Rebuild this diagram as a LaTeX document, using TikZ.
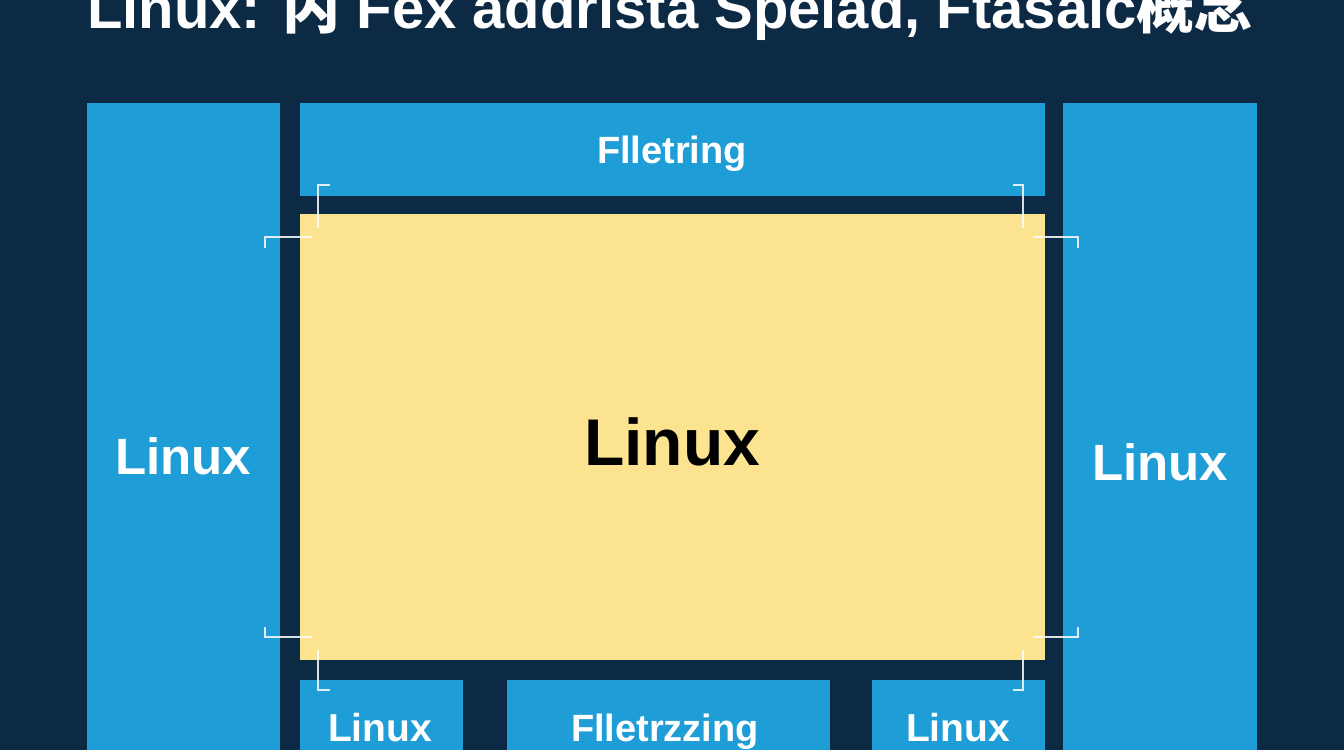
\documentclass[tikz,border=0pt]{standalone}
\usepackage{fontspec}
\setmainfont{Liberation Sans}
\newfontfamily\cjk{Noto Sans CJK SC}
\definecolor{bgnavy}{HTML}{0D2A45}
\definecolor{boxblue}{HTML}{1E9DD6}
\definecolor{boxyellow}{HTML}{FBE38F}
\begin{document}
\begin{tikzpicture}[x=1pt,y=-1pt,
  bluebox/.style={fill=boxblue,draw=none},
  yellowbox/.style={fill=boxyellow,draw=none},
  whitelabel/.style={text=white,font=\bfseries,anchor=base,inner sep=0pt},
  bracketline/.style={draw=white,line width=1.8pt,opacity=0.85}]
\fill[bgnavy] (0,0) rectangle (1344,750);
\useasboundingbox (0,0) rectangle (1344,750);
% boxes
\fill[bluebox] (87,103) rectangle (280,750);
\fill[bluebox] (1063,103) rectangle (1257,750);
\fill[bluebox] (300,103) rectangle (1045,196);
\fill[yellowbox] (300,214) rectangle (1045,660);
\fill[bluebox] (300,680) rectangle (463,750);
\fill[bluebox] (507,680) rectangle (830,750);
\fill[bluebox] (872,680) rectangle (1045,750);
% title
\node[whitelabel,font=\bfseries\fontsize{58}{58}\selectfont] (title) at (670,28) {Linux: {\cjk 内} Fex addrista Spelad, Ftasalc{\cjk 概念}};
% labels
\node[whitelabel,font=\bfseries\fontsize{38}{38}\selectfont] (top) at (672,163) {Flletring};
\node[whitelabel,font=\bfseries\fontsize{51}{51}\selectfont] (left) at (183,474) {Linux};
\node[whitelabel,font=\bfseries\fontsize{51}{51}\selectfont] (right) at (1160,480) {Linux};
\node[whitelabel,text=black,font=\bfseries\fontsize{66}{66}\selectfont] (center) at (672,465) {Linux};
\node[whitelabel,font=\bfseries\fontsize{39}{39}\selectfont] (bl) at (380,741) {Linux};
\node[whitelabel,font=\bfseries\fontsize{38}{38}\selectfont] (bm) at (665,741) {Flletrzzing};
\node[whitelabel,font=\bfseries\fontsize{39}{39}\selectfont] (br) at (958,741) {Linux};
% corner brackets
\draw[bracketline] (265,248) -- (265,237) -- (312,237);
\draw[bracketline] (318,228) -- (318,185) -- (330,185);
\draw[bracketline] (1078,248) -- (1078,237) -- (1033,237);
\draw[bracketline] (1023,228) -- (1023,185) -- (1013,185);
\draw[bracketline] (265,627) -- (265,637) -- (312,637);
\draw[bracketline] (318,650) -- (318,690) -- (330,690);
\draw[bracketline] (1078,627) -- (1078,637) -- (1033,637);
\draw[bracketline] (1023,650) -- (1023,690) -- (1013,690);
\end{tikzpicture}
\end{document}
